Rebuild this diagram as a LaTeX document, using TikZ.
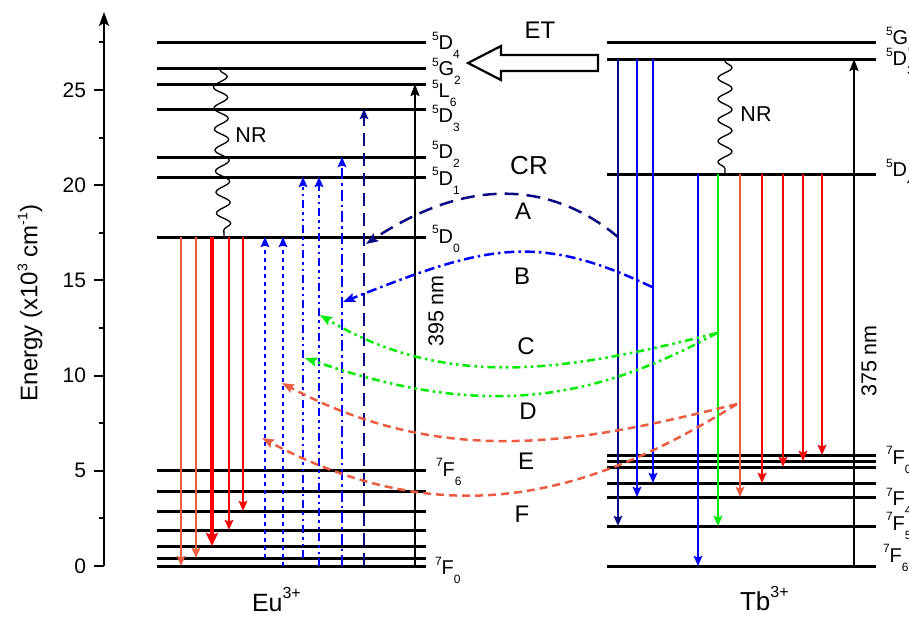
\documentclass[tikz,border=0pt]{standalone}
\usepackage{fontspec}
\setmainfont{Liberation Sans}
\usetikzlibrary{arrows.meta,decorations.pathmorphing}

\definecolor{emred}{RGB}{255,0,0}
\definecolor{emsalmon}{RGB}{236,92,64}
\definecolor{emblue}{RGB}{0,0,255}
\definecolor{emnavy}{RGB}{10,10,130}
\definecolor{emgreen}{RGB}{0,235,0}

% term symbol: superscript multiplicity, letter, subscript J
\newcommand\lvl[3]{\raisebox{9.5pt}{\fontsize{12}{12}\selectfont #1}#2\raisebox{-9pt}{\fontsize{12}{12}\selectfont #3}}
% ion name with charge
\newcommand\ionlabel[2]{#1\raisebox{13pt}{\fontsize{16}{16}\selectfont #2}}
\newcommand\supsmall[1]{\raisebox{10pt}{\fontsize{14}{14}\selectfont #1}}

\tikzset{
  every node/.style={inner sep=0pt, outer sep=0pt},
  lev/.style={line width=3pt},
  lab/.style={anchor=base west, font=\fontsize{20}{22}\selectfont},
  tip/.style={-{Stealth[length=10pt,width=8.5pt,inset=1.5pt]}},
  emis/.style={line width=2.4pt, tip},
  bigemis/.style={line width=3.8pt, -{Stealth[length=13pt,width=12pt,inset=2pt]}},
  pump/.style={line width=2.2pt, -{Stealth[length=12pt,width=9pt,inset=2pt]}},
  crl/.style={line width=2.8pt, tip},
  dotsty/.style={dash pattern=on 4.5pt off 3.5pt},
  ddsty/.style={dash pattern=on 8pt off 4pt on 2.5pt off 4pt on 2.5pt off 4pt},
  dsty/.style={dash pattern=on 11pt off 4pt on 2.5pt off 4pt},
  lsty/.style={dash pattern=on 13pt off 7pt},
  crv/.style={line width=2.5pt, -{Stealth[length=12pt,width=9pt,inset=2pt]}},
  nr/.style={line width=1.3pt, decorate,
    decoration={snake, amplitude=7pt, segment length=21pt, pre length=2pt, post length=4pt}},
  ticklab/.style={anchor=east, font=\fontsize{21}{23}\selectfont},
  midtext/.style={font=\fontsize{21.5}{23}\selectfont},
  bigtext/.style={font=\fontsize{24}{26}\selectfont},
}

\begin{document}
\begin{tikzpicture}[x=1pt,y=-1pt]
\useasboundingbox (0,0) rectangle (909,616);

% ---------- energy axis ----------
\coordinate (ax0) at (104,566);
\coordinate (axtop) at (104,12);
\draw[line width=2.2pt, -{Stealth[length=14pt,width=10pt,inset=3pt]}] (ax0) -- (axtop);
\foreach \v in {0,5,...,25}{
  \draw[line width=2pt] (104,{566-19.04*\v}) -- ++(-10,0);
  \node[ticklab] at (86,{566-19.04*\v}) {\v};
}
\foreach \v in {2.5,7.5,...,27.5}{
  \draw[line width=2pt] (104,{566-19.04*\v}) -- ++(-5,0);
}
\node[rotate=90, font=\fontsize{24}{26}\selectfont] (ylab) at (30,303)
  {Energy (x10\supsmall{3} cm\supsmall{-1})};

% ---------- Eu3+ levels ----------
\foreach \n/\y in {D4/42,G2/68,L6/84,D3/109,D2/157,D1/177,D0/237,
                   F6/470,F5/491,F4/511,F3/530,F2/546,F1/558,F0/566}{
  \coordinate (eu\n) at (157,\y);
  \draw[lev] (eu\n) -- ++(269,0);
}
\node[lab] (leuD4) at (432,49.5)  {\lvl{5}{D}{4}};
\node[lab] (leuG2) at (432,75.5)  {\lvl{5}{G}{2}};
\node[lab] (leuL6) at (432,97.5)  {\lvl{5}{L}{6}};
\node[lab] (leuD3) at (432,122.5) {\lvl{5}{D}{3}};
\node[lab] (leuD2) at (432,158.5) {\lvl{5}{D}{2}};
\node[lab] (leuD1) at (432,185)   {\lvl{5}{D}{1}};
\node[lab] (leuD0) at (432,243)   {\lvl{5}{D}{0}};
\node[lab] (leuF6) at (436,476)   {\lvl{7}{F}{6}};
\node[lab] (leuF0) at (435,574.5) {\lvl{7}{F}{0}};

% ---------- Tb3+ levels ----------
\foreach \n/\y in {G6/42,D3/59,D4/174,F0/455,F1/461,F2/467,F3/483,F4/497,F5/526,F6/566}{
  \coordinate (tb\n) at (607,\y);
  \draw[lev] (tb\n) -- ++(269,0);
}
\node[lab] (ltbG6) at (886,44.5)  {\lvl{5}{G}{6}};
\node[lab] (ltbD3) at (886,65.5)  {\lvl{5}{D}{3}};
\node[lab] (ltbD4) at (886,176.5) {\lvl{5}{D}{4}};
\node[lab] (ltbF0) at (886,464)   {\lvl{7}{F}{0}};
\node[lab] (ltbF4) at (886,505.5) {\lvl{7}{F}{4}};
\node[lab] (ltbF5) at (886,530)   {\lvl{7}{F}{5}};
\node[lab] (ltbF6) at (883,562)   {\lvl{7}{F}{6}};

% ---------- Eu3+ transitions ----------
\draw[pump] (415,0 |- euF0) -- (415,0 |- euL6);
\node[midtext, rotate=90] (eupump) at (436,311) {395 nm};
\draw[nr] (220,0 |- euG2) -- (224,0 |- euD0);
\node[midtext] (eunr) at (251,135) {NR};

\draw[emis, emsalmon] (181,0 |- euD0) -- (181,0 |- euF0);
\draw[emis, emsalmon] (196,0 |- euD0) -- (196,0 |- euF1);
\draw[bigemis, emred] (212,0 |- euD0) -- (212,0 |- euF2);
\draw[emis, emred]    (229,0 |- euD0) -- (229,0 |- euF3);
\draw[emis, emred]    (243,0 |- euD0) -- (243,0 |- euF4);

\draw[crl, emblue, dotsty] (265,0 |- euF1) -- (265,0 |- euD0);
\draw[crl, emblue, dotsty] (283,0 |- euF0) -- (283,0 |- euD0);
\draw[crl, emblue, ddsty]  (303,0 |- euF1) -- (303,0 |- euD1);
\draw[crl, emblue, ddsty]  (319,0 |- euF0) -- (319,0 |- euD1);
\draw[crl, emblue, dsty]   (342,0 |- euF0) -- (342,0 |- euD2);
\draw[crl, emnavy, lsty]   (364,0 |- euF0) -- (364,0 |- euD3);

% ---------- Tb3+ transitions ----------
\draw[pump] (854,0 |- tbF6) -- (854,0 |- tbD3);
\node[midtext, rotate=90] (tbpump) at (869,361) {375 nm};
\draw[nr] (725,0 |- tbD3) -- (725,0 |- tbD4);
\node[midtext] (tbnr) at (756,114) {NR};

\draw[emis, emnavy] (618,0 |- tbD3) -- (618,0 |- tbF5);
\draw[emis, emblue] (637,0 |- tbD3) -- (637,0 |- tbF4);
\draw[emis, emblue] (653,0 |- tbD3) -- (653,0 |- tbF3);
\draw[emis, emblue]    (698,0 |- tbD4) -- (698,0 |- tbF6);
\draw[emis, emgreen]   (718,0 |- tbD4) -- (718,0 |- tbF5);
\draw[emis, emsalmon]  (740,0 |- tbD4) -- (740,0 |- tbF4);
\draw[emis, emred]     (762,0 |- tbD4) -- (762,0 |- tbF3);
\draw[emis, emred]     (783,0 |- tbD4) -- (783,0 |- tbF2);
\draw[emis, emred]     (803,0 |- tbD4) -- (803,0 |- tbF1);
\draw[emis, emred]     (822,0 |- tbD4) -- (822,0 |- tbF0);

% ---------- energy transfer ----------
\draw[line width=2.2pt, fill=white, line join=miter]
  (598,55) -- (501,55) -- (501,46) -- (468,63) -- (501,80) -- (501,71) -- (598,71) -- cycle;
\node[bigtext] (et) at (540,30) {ET};

% ---------- cross relaxation ----------
\coordinate (aS) at (618,237);  \coordinate (aE) at (366,244);
\coordinate (bS) at (652,287);  \coordinate (bE) at (343,302);
\coordinate (cS) at (717,333);  \coordinate (c1E) at (320,315); \coordinate (c2E) at (305,358);
\coordinate (dS) at (737,404);  \coordinate (d1E) at (282,383); \coordinate (d2E) at (262,438);

\draw[crv, emnavy, dash pattern=on 14pt off 8pt] (aS) .. controls (553,183) and (470,175) .. (aE);
\draw[crv, emblue, dash pattern=on 10pt off 4pt on 2.5pt off 4pt] (bS) .. controls (535,231) and (483,246.5) .. (bE);
\draw[crv, emgreen, ddsty] (cS) .. controls (571,370) and (449,392) .. (c1E);
\draw[crv, emgreen, ddsty] (cS) .. controls (585,405) and (476,417) .. (c2E);
\draw[crv, emsalmon, dash pattern=on 8pt off 5pt] (dS) .. controls (591,440) and (449,472) .. (d1E);
\draw[crv, emsalmon, dash pattern=on 8pt off 5pt] (dS) .. controls (597,491) and (452,539) .. (d2E);

\node[font=\fontsize{26}{28}\selectfont] (cr) at (529,166) {CR};
\node[bigtext] (la) at (523,211) {A};
\node[bigtext] (lb) at (522,276) {B};
\node[bigtext] (lc) at (526,346) {C};
\node[bigtext] (ld) at (528,411) {D};
\node[bigtext] (le) at (526,461) {E};
\node[bigtext] (lf) at (522,514) {F};

% ---------- ion names ----------
\node[anchor=base west, font=\fontsize{25}{27}\selectfont] (eu) at (252,611) {\ionlabel{Eu}{3+}};
\node[anchor=base west, font=\fontsize{26}{28}\selectfont] (tb) at (740,610) {\ionlabel{Tb}{3+}};
\end{tikzpicture}
\end{document}
